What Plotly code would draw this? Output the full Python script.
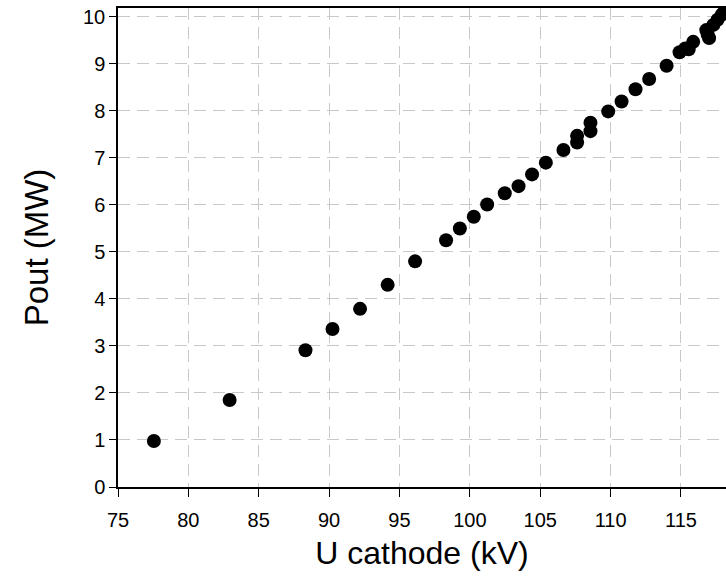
import plotly.graph_objects as go

u_cathode = [77.55, 82.93, 88.32, 90.24, 92.2, 94.16, 96.11, 98.31, 99.29, 100.28,
             101.23, 102.48, 103.46, 104.42, 105.4, 106.65, 107.62, 107.62, 108.57, 108.57,
             109.83, 110.78, 111.77, 112.74, 113.98, 114.9, 115.3, 115.55, 115.87, 116.8,
             117.0, 116.9, 117.3, 117.6, 117.9, 118.1]
p_out = [0.98, 1.85, 2.91, 3.36, 3.79, 4.30, 4.80, 5.25, 5.50, 5.75,
         6.01, 6.25, 6.40, 6.65, 6.90, 7.17, 7.33, 7.47, 7.57, 7.75,
         7.99, 8.20, 8.46, 8.68, 8.96, 9.25, 9.33, 9.31, 9.47, 9.72,
         9.55, 9.62, 9.83, 9.94, 10.05, 10.12]

x_ticks = [75, 80, 85, 90, 95, 100, 105, 110, 115]
y_ticks = [0, 1, 2, 3, 4, 5, 6, 7, 8, 9, 10]

fig = go.Figure()
fig.add_trace(go.Scatter(
    x=u_cathode, y=p_out, mode="markers",
    marker=dict(color="black", size=14, line=dict(width=0)),
    showlegend=False, cliponaxis=True,
))

font = "Liberation Sans, Arial, sans-serif"
fig.update_layout(
    width=726, height=581,
    margin=dict(l=118, r=0, t=8, b=94),
    paper_bgcolor="white", plot_bgcolor="white",
    font=dict(family=font, color="black"),
    xaxis=dict(
        range=[75, 118.2], tickvals=x_ticks, ticks="outside", ticklen=8,
        tickcolor="black", tickwidth=1, ticklabelstandoff=6,
        showline=True, linecolor="black", linewidth=1.5, mirror=True,
        showgrid=True, gridcolor="#c8c8c8", gridwidth=1.2, griddash="12px,7px",
        zeroline=False, tickfont=dict(size=20),
        title=dict(text="U cathode (kV)", font=dict(size=32), standoff=12),
    ),
    yaxis=dict(
        range=[0, 10.19], tickvals=y_ticks, ticks="outside", ticklen=7,
        tickcolor="black", tickwidth=1, ticklabelstandoff=0,
        showline=True, linecolor="black", linewidth=1.5, mirror=False,
        showgrid=True, gridcolor="#c8c8c8", gridwidth=1.2, griddash="12px,7px",
        zeroline=False, tickfont=dict(size=20),
        title=dict(text="Pout (MW)", font=dict(size=33), standoff=24),
    ),
)

fig.write_html("out.html")
